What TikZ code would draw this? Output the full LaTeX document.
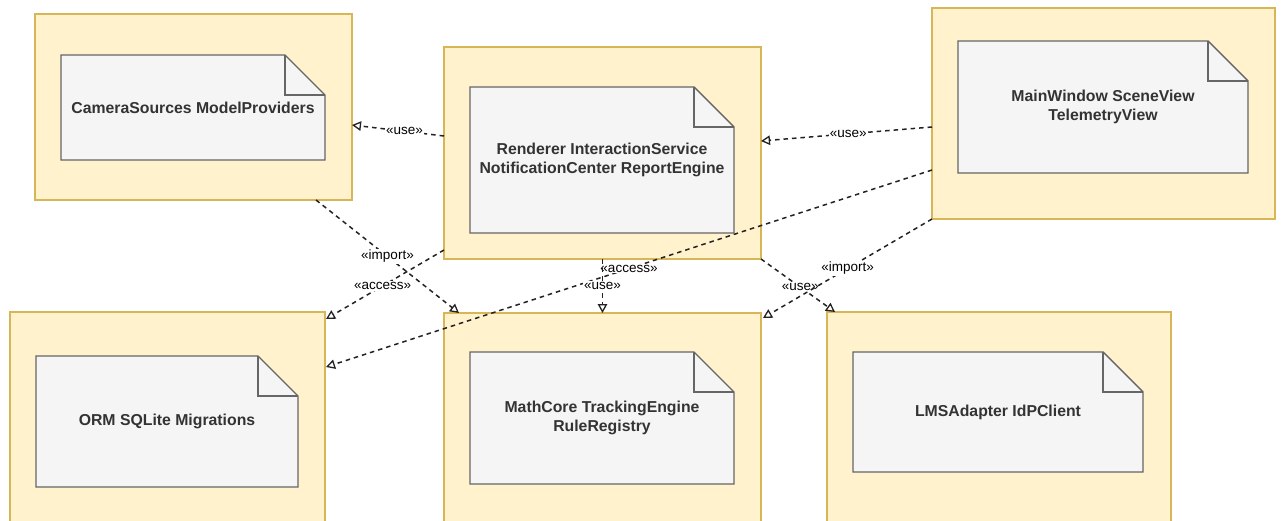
\documentclass[tikz,border=0pt]{standalone}
\usepackage{fontspec}
\setmainfont{Liberation Sans}
\usetikzlibrary{arrows.meta,calc}

\definecolor{pkgfill}{HTML}{FFF2CC}
\definecolor{pkgline}{HTML}{D6B656}
\definecolor{notefill}{HTML}{F5F5F5}
\definecolor{noteline}{HTML}{666666}
\definecolor{notetext}{HTML}{333333}
\definecolor{edgecol}{HTML}{222222}

\pgfdeclarelayer{pkglayer}
\pgfdeclarelayer{notelayer}
\pgfsetlayers{pkglayer,notelayer,main}

% outline of a note with a folded top-right corner, drawn behind its text
\newcommand\foldnote[1]{%
  \begin{pgfonlayer}{notelayer}
    \filldraw[noteshape] (#1.north west) -- ([xshift=-40pt]#1.north east)
      -- ([yshift=-40pt]#1.north east) -- (#1.south east) -- (#1.south west) -- cycle;
    \draw[noteshape, fill=none] ([xshift=-40pt]#1.north east)
      -- ([xshift=-40pt,yshift=-40pt]#1.north east) -- ([yshift=-40pt]#1.north east);
  \end{pgfonlayer}}

\begin{document}
\begin{tikzpicture}[x=1pt,y=-1pt,
  pkg/.style={draw=pkgline, fill=pkgfill, line width=1.2pt, inner sep=0pt, outer sep=0pt},
  notebody/.style={inner sep=0pt, outer sep=0pt, align=center, text=notetext,
    font=\fontsize{15.8}{19}\selectfont\bfseries},
  noteshape/.style={draw=noteline, fill=notefill, line width=1.4pt, line join=miter},
  dep/.style={draw=edgecol, line width=1.5pt, dash pattern=on 4.5pt off 4pt,
    -{Triangle[open, length=9pt, width=9.5pt, line width=1.3pt]}},
  lbl/.style={fill=white, inner sep=1pt, text=black, font=\fontsize{13.5}{15}\selectfont}
]
\useasboundingbox (0,0) rectangle (1281,521);
\clip (0,0) rectangle (1281,521);

% packages
\begin{pgfonlayer}{pkglayer}
  \node[pkg, minimum width=317pt, minimum height=186pt] (cam)  at (193.5,107)   {};
  \node[pkg, minimum width=317pt, minimum height=212pt] (ren)  at (602.5,153)   {};
  \node[pkg, minimum width=343pt, minimum height=211pt] (mwin) at (1103.5,113.5) {};
  \node[pkg, minimum width=315pt, minimum height=228pt] (orm)  at (167.5,426)   {};
  \node[pkg, minimum width=317pt, minimum height=228pt] (math) at (602.5,427)   {};
  \node[pkg, minimum width=344pt, minimum height=228pt] (lms)  at (999,426)     {};
\end{pgfonlayer}

% notes inside the packages
\node[notebody, minimum width=264pt, minimum height=105pt] (camN)  at (193,107.5) {CameraSources ModelProviders};
\foldnote{camN}
\node[notebody, minimum width=264pt, minimum height=146pt] (renN)  at (602,160) {Renderer InteractionService\\NotificationCenter ReportEngine};
\foldnote{renN}
\node[notebody, minimum width=290pt, minimum height=132pt] (mwinN) at (1103,107) {MainWindow SceneView\\TelemetryView};
\foldnote{mwinN}
\node[notebody, minimum width=262pt, minimum height=131pt] (ormN)  at (167,421.5) {ORM SQLite Migrations};
\foldnote{ormN}
\node[notebody, minimum width=264pt, minimum height=132pt] (mathN) at (602,418) {MathCore TrackingEngine\\RuleRegistry};
\foldnote{mathN}
\node[notebody, minimum width=290pt, minimum height=120pt] (lmsN)  at (998,412) {LMSAdapter IdPClient};
\foldnote{lmsN}

% dependencies
\draw[dep] ([yshift=17pt]ren.west) -- node[lbl, pos=0.43] {«use»} ([yshift=-18pt]cam.east);
\draw[dep] ([yshift=-13.5pt]mwin.west) -- node[lbl, pos=0.49] {«use»} ([yshift=12pt]ren.east);
\draw[dep] ([yshift=9pt]ren.south west) -- node[lbl, pos=0.52] {«access»} ([xshift=1pt,yshift=-7pt]orm.north east);
\draw[dep] ([xshift=-36pt]cam.south east) -- node[lbl, pos=0.5] {«import»} ([xshift=15pt]math.north west);
\draw[dep] ([yshift=-56.5pt]mwin.west) -- node[lbl, pos=0.5] {«access»} ([xshift=1pt,yshift=59pt]orm.east);
\draw[dep] (ren.south) -- node[lbl, pos=0.5] {«use»} (math.north);
\draw[dep] (ren.south east) -- node[lbl, pos=0.53] {«use»} ([xshift=8pt]lms.north west);
\draw[dep] (mwin.south west) -- node[lbl, pos=0.5] {«import»} ([xshift=2pt,yshift=-5pt]math.north east);
\end{tikzpicture}
\end{document}
